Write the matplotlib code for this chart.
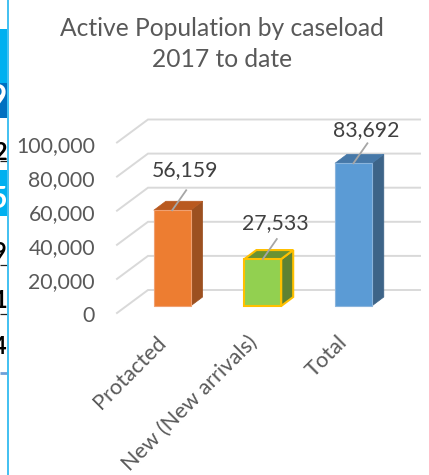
import matplotlib
matplotlib.use("Agg")
import matplotlib.pyplot as plt
from matplotlib.patches import Polygon, Rectangle

categories = ["Protacted", "New (New arrivals)", "Total"]
values = [56159, 27533, 83692]
value_labels = ["56,159", "27,533", "83,692"]
y_ticks = [0, 20000, 40000, 60000, 80000, 100000]
y_tick_labels = ["0", "20,000", "40,000", "60,000", "80,000", "100,000"]
title = "Active Population by caseload\n2017 to date"

front_colors = ["#ed7d31", "#92d050", "#5b9bd5"]
top_colors = ["#b9591f", "#6a9232", "#4678a8"]
side_colors = ["#9c5020", "#5f8232", "#3d6488"]
edge_colors = ["#f0a070", "#ffc000", "#8ab4dc"]
label_gaps = [40, 36, 33]

# clipped table sitting behind the chart on the left
table_bands = [(29, 83, "#00b0f0"), (83, 118, "#0070c0"), (170, 216, "#00b0f0")]
table_rules = [(161, "#202020", 0.9), (265, "#202020", 0.9), (314, "#202020", 0.9), (373, "#6fa0d8", 2.0)]
table_digits = [("9", 99, "white", 24), ("2", 152, "black", 17), ("5", 199, "white", 22),
                ("9", 252, "black", 17), ("1", 300, "black", 17), ("4", 346, "black", 17)]

W, H = 429, 475
PX_PER_UNIT = 0.001705
BASE_PX = 306
CAT_PX = 90.6
FIRST_PX = 172.2
BAR_W = 36.8 / CAT_PX
DX, DY = 12 / CAT_PX, 9 / PX_PER_UNIT

plt.rcParams["font.family"] = ["Lato", "DejaVu Sans"]

fig = plt.figure(figsize=(W / 100, H / 100), dpi=100)
ax = fig.add_axes([0, 0, 1, 1])
ax.set_xlim(-FIRST_PX / CAT_PX, (W - FIRST_PX) / CAT_PX)
ax.set_ylim(-(H - BASE_PX) / PX_PER_UNIT, BASE_PX / PX_PER_UNIT)
ax.axis("off")


def px_x(px):
    return (px - FIRST_PX) / CAT_PX


def px_y(px):
    return (BASE_PX - px) / PX_PER_UNIT


# table remnant
for top, bottom, color in table_bands:
    ax.fill_between([px_x(0), px_x(7)], px_y(bottom), px_y(top), color=color, lw=0)
for y, color, lw in table_rules:
    ax.plot([px_x(0), px_x(7)], [px_y(y), px_y(y)], color=color, lw=lw, solid_capstyle="butt")
ax.plot([px_x(8), px_x(8)], [px_y(0), px_y(H)], color="#33bbf0", lw=1.3)
for s, y, color, size in table_digits:
    ax.text(px_x(7), px_y(y), s, color=color, fontsize=size, fontweight="bold",
            ha="right", va="center")

# gridlines, floor front edge to back wall
for v in y_ticks:
    ax.plot([px_x(117), px_x(148), px_x(420)],
            [v + px_y(313), v + px_y(290), v + px_y(290)],
            color="#d9d9d9", lw=1.4, solid_joinstyle="miter", zorder=1)

for v, s in zip(y_ticks, y_tick_labels):
    ax.text(px_x(95), v + px_y(316.5), s, ha="right", va="center",
            color="#595959", fontsize=15.3)

for i, (v, s) in enumerate(zip(values, value_labels)):
    x0, x1 = i - BAR_W / 2, i + BAR_W / 2
    ax.add_patch(Polygon([(x1, 0), (x1 + DX, DY), (x1 + DX, v + DY), (x1, v)],
                         fc=side_colors[i], ec=edge_colors[i] if i == 1 else side_colors[i],
                         lw=1.5 if i == 1 else 0.5, zorder=3))
    ax.add_patch(Polygon([(x0, v), (x0 + DX, v + DY), (x1 + DX, v + DY), (x1, v)],
                         fc=top_colors[i], ec=edge_colors[i] if i == 1 else top_colors[i],
                         lw=1.5 if i == 1 else 0.5, zorder=3))
    ax.add_patch(Rectangle((x0, 0), BAR_W, v, fc=front_colors[i], ec=edge_colors[i],
                           lw=1.5 if i == 1 else 0.8, zorder=4))
    # leader line and value label
    ax.plot([i, i + 14 / CAT_PX], [v, v + 20 / PX_PER_UNIT], color="#a6a6a6", lw=1.3, zorder=5)
    ax.text(i + 13 / CAT_PX, v + label_gaps[i] / PX_PER_UNIT, s, ha="center", va="center",
            color="#404040", fontsize=15.3, zorder=6)
    ax.text(i - 16 / CAT_PX, px_y(332), categories[i], rotation=45, rotation_mode="anchor",
            ha="right", va="top", color="#595959", fontsize=15.7)

ax.text(px_x(222), px_y(44), title, ha="center", va="center", color="#595959",
        fontsize=17.7, linespacing=1.42)

fig.savefig("out.png", dpi=100)
